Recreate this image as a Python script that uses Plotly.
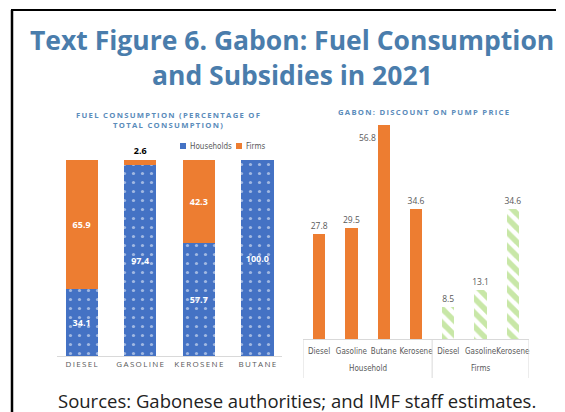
import plotly.graph_objects as go

# ---------------- data ----------------
fuels = ["DIESEL", "GASOLINE", "KEROSENE", "BUTANE"]
households_share = [34.1, 97.4, 57.7, 100.0]
firms_share = [65.9, 2.6, 42.3, 0.0]

hh_fuels = ["Diesel", "Gasoline", "Butane", "Kerosene"]
hh_discount = [27.8, 29.5, 56.8, 34.6]
firm_fuels = ["Diesel", "Gasoline", "Kerosene"]
firm_discount = [8.5, 13.1, 34.6]
groups = ["Household", "Firms"]

W, H = 565, 412
BLUE = "#4472C4"
ORANGE = "#ED7D31"
GREEN = "#92D050"
TITLE_C = "#4a7dac"
SUB_C = "#5b8cbb"
GRAY = "#595959"
LINE_C = "#d9d9d9"
NARROW = "Liberation Sans Narrow, DejaVu Sans Condensed, Open Sans"


def spaced(s, sp="\u2009"):
    return sp.join(list(s))


def px_x(p):
    return p / W


def px_y(p):
    return 1 - p / H


fig = go.Figure()

# ---------- left chart: fuel consumption ----------
fig.add_trace(go.Bar(
    x=fuels, y=households_share, name="Households", showlegend=False,
    marker=dict(color=BLUE, line=dict(width=0),
                pattern=dict(shape=".", fgcolor="white", bgcolor=BLUE, size=9, solidity=0.1)),
    width=0.55,
    text=[f"{v:.1f}" for v in households_share],
    textposition="inside", insidetextanchor="middle", constraintext="none",
    textfont=dict(color="white", size=9, family="Open Sans", weight="bold"),
    xaxis="x", yaxis="y", cliponaxis=False,
))
fig.add_trace(go.Bar(
    x=fuels, y=firms_share, name="Firms", showlegend=False,
    marker=dict(color=ORANGE, line=dict(width=0)),
    width=0.55,
    text=[f"{v:.1f}" if v > 0 else "" for v in firms_share],
    textposition=["inside" if v > 5 else "outside" for v in firms_share],
    insidetextanchor="middle", constraintext="none",
    insidetextfont=dict(color="white", size=9, family="Open Sans", weight="bold"),
    outsidetextfont=dict(color="black", size=9, family="Open Sans", weight="bold"),
    xaxis="x", yaxis="y", cliponaxis=False,
))

# ---------- right chart: discount on pump price ----------
n_hh = len(hh_fuels)
n_f = len(firm_fuels)
hh_pos = list(range(n_hh))
f_pos = list(range(n_hh, n_hh + n_f))

fig.add_trace(go.Bar(
    x=hh_pos, y=hh_discount,
    marker=dict(color=ORANGE, line=dict(width=0)),
    width=0.38, showlegend=False,
    text=[f"{v:.1f}" if v < 50 else "" for v in hh_discount],
    textposition="outside", constraintext="none",
    outsidetextfont=dict(color=GRAY, size=8.5, family="Open Sans"),
    xaxis="x2", yaxis="y2", cliponaxis=False,
))
fig.add_trace(go.Bar(
    x=f_pos, y=firm_discount,
    marker=dict(color="white", line=dict(width=0),
                pattern=dict(shape="\\", fgcolor=GREEN, bgcolor="white", size=10, solidity=0.55)),
    width=0.38, showlegend=False,
    text=[f"{v:.1f}" for v in firm_discount],
    textposition="outside", constraintext="none",
    outsidetextfont=dict(color=GRAY, size=8.5, family="Open Sans"),
    xaxis="x2", yaxis="y2", cliponaxis=False,
))

# label for the tall bar, to the left of its top
for i, v in zip(hh_pos, hh_discount):
    if v >= 50:
        fig.add_annotation(x=i, y=v, xref="x2", yref="y2", text=f"{v:.1f}",
                           showarrow=False, xanchor="right", yanchor="middle",
                           xshift=-6, yshift=-12,
                           font=dict(color=GRAY, size=8.5, family="Open Sans"))

# group labels and dividers for the right chart
group_pos = [hh_pos, f_pos]
for g, pos in zip(groups, group_pos):
    fig.add_annotation(x=sum(pos) / len(pos), xref="x2", y=px_y(368), yref="paper",
                       text=g, showarrow=False, xanchor="center", yanchor="middle",
                       font=dict(size=8, color=GRAY, family=NARROW))
edges = [hh_pos[0] - 0.5, f_pos[0] - 0.5, f_pos[-1] + 0.5]
for e in edges:
    fig.add_shape(type="line", xref="x2", yref="paper", x0=e, x1=e,
                  y0=px_y(339), y1=px_y(378), line=dict(color=LINE_C, width=1))

fig.update_layout(
    width=W, height=H, margin=dict(l=0, r=0, t=0, b=0),
    paper_bgcolor="white", plot_bgcolor="white",
    barmode="stack", bargap=0.45,
    font=dict(family="Open Sans", color=GRAY),
    showlegend=False,
    xaxis=dict(domain=[px_x(57), px_x(282)], range=[-0.42, 3.42],
               showline=True, linecolor=LINE_C, linewidth=1, ticks="",
               tickmode="array", tickvals=fuels, ticktext=[spaced(f) for f in fuels],
               tickfont=dict(size=8, color=GRAY), tickangle=0),
    yaxis=dict(domain=[px_y(356), px_y(160)], range=[0, 100], visible=False),
    xaxis2=dict(domain=[px_x(303), px_x(529)], range=[-0.5, n_hh + n_f - 0.5], anchor="y2",
                showline=True, linecolor=LINE_C, linewidth=1, ticks="",
                tickmode="array", tickvals=hh_pos + f_pos, ticktext=hh_fuels + firm_fuels,
                ticklabelstandoff=4,
                tickangle=0, tickfont=dict(size=8, color=GRAY, family=NARROW), showgrid=False),
    yaxis2=dict(domain=[px_y(339), px_y(113)], range=[0, 60], visible=False, anchor="x2"),
)

# manual legend for left chart
legend_items = [("Households", BLUE, 180), ("Firms", ORANGE, 236)]
for name, col, x0 in legend_items:
    fig.add_shape(type="rect", xref="paper", yref="paper",
                  x0=px_x(x0), x1=px_x(x0 + 6), y0=px_y(149), y1=px_y(143),
                  fillcolor=col, line=dict(width=0))
    fig.add_annotation(xref="paper", yref="paper", x=px_x(x0 + 7.5), y=px_y(146),
                       text=name, showarrow=False, xanchor="left", yanchor="middle",
                       font=dict(size=8, color=GRAY, family=NARROW))

# titles
for txt, yy in [("Text Figure 6. Gabon: Fuel Consumption", 40), ("and Subsidies in 2021", 75)]:
    fig.add_annotation(xref="paper", yref="paper", x=px_x(292), y=px_y(yy),
                       text=f"<b>{txt}</b>", showarrow=False, xanchor="center",
                       font=dict(size=26.5, color=TITLE_C, family="Open Sans"), yanchor="middle")
fig.add_annotation(xref="paper", yref="paper", x=px_x(168), y=px_y(120),
                   text="<b>" + spaced("FUEL CONSUMPTION (PERCENTAGE OF") + "<br>" +
                        spaced("TOTAL CONSUMPTION)") + "</b>",
                   showarrow=False, xanchor="center",
                   font=dict(size=7.7, color=SUB_C, family="Open Sans"), yanchor="middle")
fig.add_annotation(xref="paper", yref="paper", x=px_x(423), y=px_y(112),
                   text="<b>" + spaced("GABON: DISCOUNT ON PUMP PRICE") + "</b>",
                   showarrow=False, xanchor="center",
                   font=dict(size=7.7, color=SUB_C, family="Open Sans"), yanchor="middle")
fig.add_annotation(xref="paper", yref="paper", x=px_x(297), y=px_y(400),
                   text="Sources: Gabonese authorities; and IMF staff estimates.",
                   showarrow=False, xanchor="center",
                   font=dict(size=18.5, color="#222222", family="Open Sans"), yanchor="middle")

# frame
fig.add_shape(type="line", xref="paper", yref="paper", x0=px_x(11), x1=px_x(556),
              y0=px_y(10), y1=px_y(10), line=dict(color="black", width=2))
fig.add_shape(type="line", xref="paper", yref="paper", x0=px_x(12), x1=px_x(12),
              y0=px_y(10), y1=0, line=dict(color="black", width=2.5))

fig.write_html("out.html")
